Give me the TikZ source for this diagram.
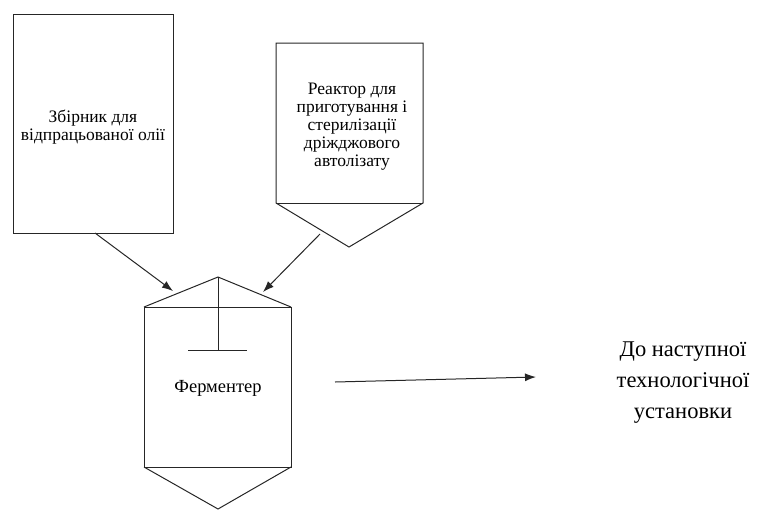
\documentclass[tikz,border=0pt]{standalone}
\usepackage{fontspec}
\setmainfont{Liberation Serif}
\usetikzlibrary{arrows.meta}
\begin{document}
\begin{tikzpicture}[x=1pt,y=-1pt,
  lw/.style={line width=1pt, draw=black!85},
  flow/.style={lw, -{Latex[length=11pt,width=8pt]}},
  small/.style={font=\fontsize{17.5}{18}\selectfont, align=center},
  big/.style={font=\fontsize{22.5}{31}\selectfont, align=center}]
\useasboundingbox (0,0) rectangle (775,509);
% collector
\draw[lw] (13,14) rectangle (173,233);
\node[small] (collector) at (93,127) {Збірник для\\відпрацьованої олії};
\coordinate (cbot) at (95,233);
% reactor
\draw[lw] (276,43) -- (423,43) -- (423,203) -- (349,247) -- (276,203) -- cycle;
\draw[lw] (276,203) -- (423,203);
\node[small] (reactor) at (352,127) {Реактор для\\приготування і\\стерилізації\\дріжджового\\автолізату};
\coordinate (rout) at (320,234);
% fermenter
\draw[lw] (144,307) rectangle (291,467);
\draw[lw] (144,307) -- (218,277) -- (291,307);
\draw[lw] (144,467) -- (218,509) -- (291,467);
\draw[lw] (218,277) -- (218,350);
\draw[lw] (188,350) -- (247,350);
\node[small,font=\fontsize{18.5}{18}\selectfont] (ferm) at (218,388) {Ферментер};
\coordinate (fin1) at (173,291);
\coordinate (fin2) at (263,292);
\coordinate (fout) at (335,382);
\coordinate (next) at (536,377);
\node[big] (dest) at (683,383) {До наступної\\технологічної\\установки};
\draw[flow] (cbot) -- (fin1);
\draw[flow] (rout) -- (fin2);
\draw[flow] (fout) -- (next);
\end{tikzpicture}
\end{document}
